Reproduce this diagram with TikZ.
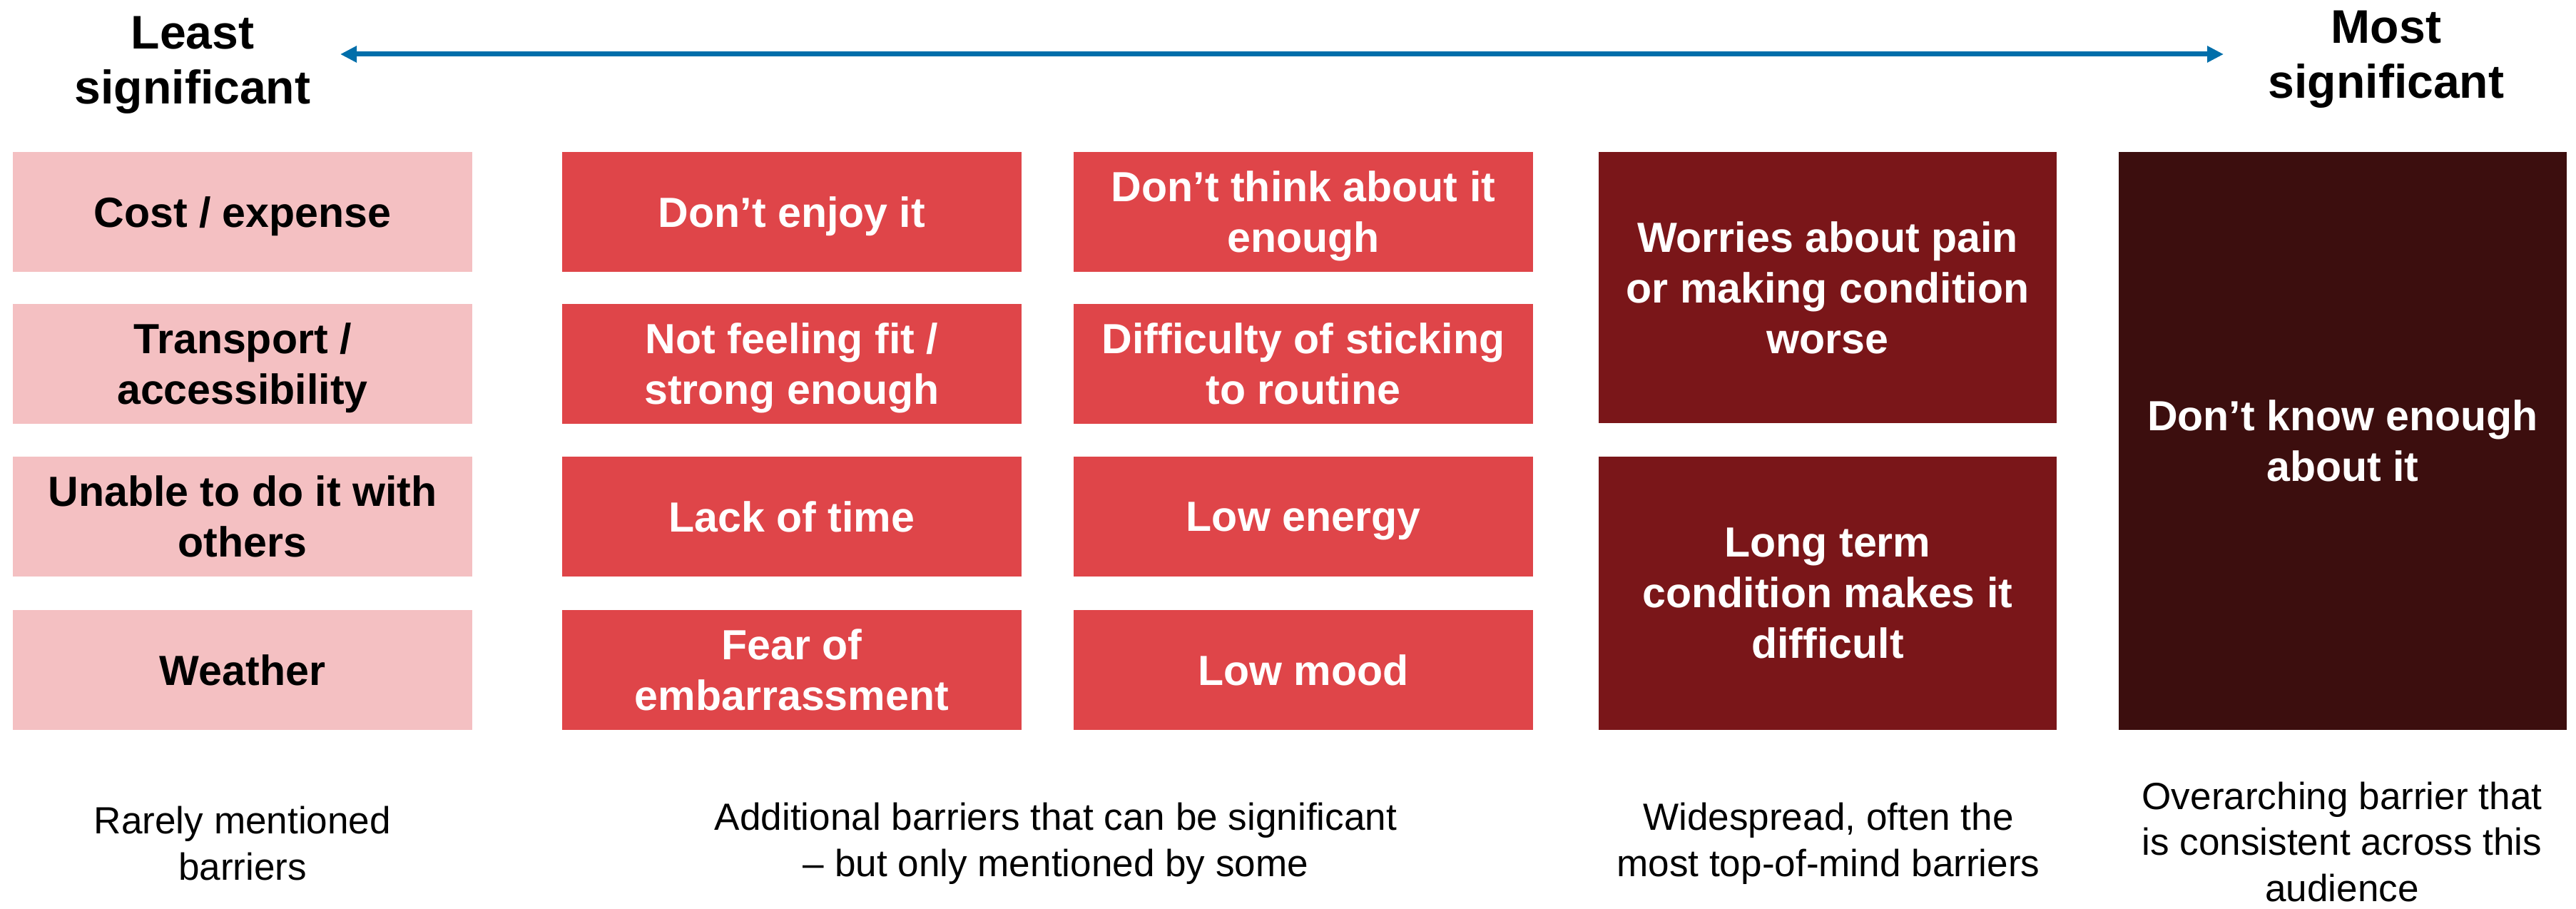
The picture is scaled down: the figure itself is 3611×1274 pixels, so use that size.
\documentclass[tikz,border=0pt]{standalone}
\usepackage{fontspec}
\setmainfont{Liberation Sans}
\usepackage{xcolor}
\usetikzlibrary{arrows.meta}

\definecolor{lowpink}{HTML}{F4C0C2}
\definecolor{midred}{HTML}{DF4549}
\definecolor{deepred}{HTML}{7A1619}
\definecolor{darkmaroon}{HTML}{3C0E0E}
\definecolor{scaleblue}{HTML}{006EAA}

\begin{document}
\begin{tikzpicture}[x=0.01cm, y=-0.01cm,
  barrier/.style={rectangle, inner sep=0pt, minimum width=6.43cm, minimum height=1.68cm,
    align=center, text depth=0pt, text=white, font=\fontsize{16.8}{20.2}\selectfont\bfseries},
  rare/.style={barrier, fill=lowpink, text=black},
  extra/.style={barrier, fill=midred},
  heading/.style={inner sep=0pt, align=center, font=\fontsize{18.8}{21.9}\selectfont\bfseries},
  caption/.style={inner sep=0pt, align=center, font=\fontsize{15.1}{18.4}\selectfont},
  scalearrow/.style={{Triangle[length=0.23cm,width=0.22cm]}-{Triangle[length=0.23cm,width=0.22cm]},
    line width=0.07cm, scaleblue}]
\useasboundingbox (0,0) rectangle (3611,1274);
% significance scale on top
\coordinate (lo) at (477,76);
\coordinate (hi) at (3117,76);
\draw[scalearrow] (lo) -- (hi);
\node[heading, anchor=north] (least) at (270,22) {Least\\significant};
\node[heading, anchor=north] (most) at (3345,14) {Most\\significant};
% rarely mentioned
\node[rare] (cost) at (340,297) {Cost / expense};
\node[rare] (transport) at (340,510) {Transport /\\accessibility};
\node[rare] (others) at (340,724) {Unable to do it with\\others};
\node[rare] (weather) at (340,939) {Weather};
% additional barriers, two columns
\node[extra] (enjoy) at (1110,297) {Don’t enjoy it};
\node[extra] (fit) at (1110,510) {Not feeling fit /\\strong enough};
\node[extra] (time) at (1110,724) {Lack of time};
\node[extra] (embarrass) at (1110,939) {Fear of\\embarrassment};
\node[extra] (think) at (1827,297) {Don’t think about it\\enough};
\node[extra] (routine) at (1827,510) {Difficulty of sticking\\to routine};
\node[extra] (energy) at (1827,724) {Low energy};
\node[extra] (mood) at (1827,939) {Low mood};
% widespread
\node[barrier, fill=deepred, minimum width=6.42cm, minimum height=3.80cm] (pain) at (2562,403)
  {Worries about pain\\or making condition\\worse};
\node[barrier, fill=deepred, minimum width=6.42cm, minimum height=3.83cm] (ltc) at (2562,831.5)
  {Long term\\condition makes it\\difficult};
% overarching
\node[barrier, fill=darkmaroon, minimum width=6.28cm, minimum height=8.10cm] (know) at (3284,618)
  {Don’t know enough\\about it};
% captions under the columns
\node[caption] (caprare) at (340,1182) {Rarely mentioned\\barriers};
\node[caption] (capextra) at (1480,1182) {Additional barriers that can be significant\\– but only mentioned by some};
\node[caption] (capwide) at (2563,1182) {Widespread, often the\\most top-of-mind barriers};
\node[caption] (capover) at (3283,1180) {Overarching barrier that\\is consistent across this\\audience};
\end{tikzpicture}
\end{document}
